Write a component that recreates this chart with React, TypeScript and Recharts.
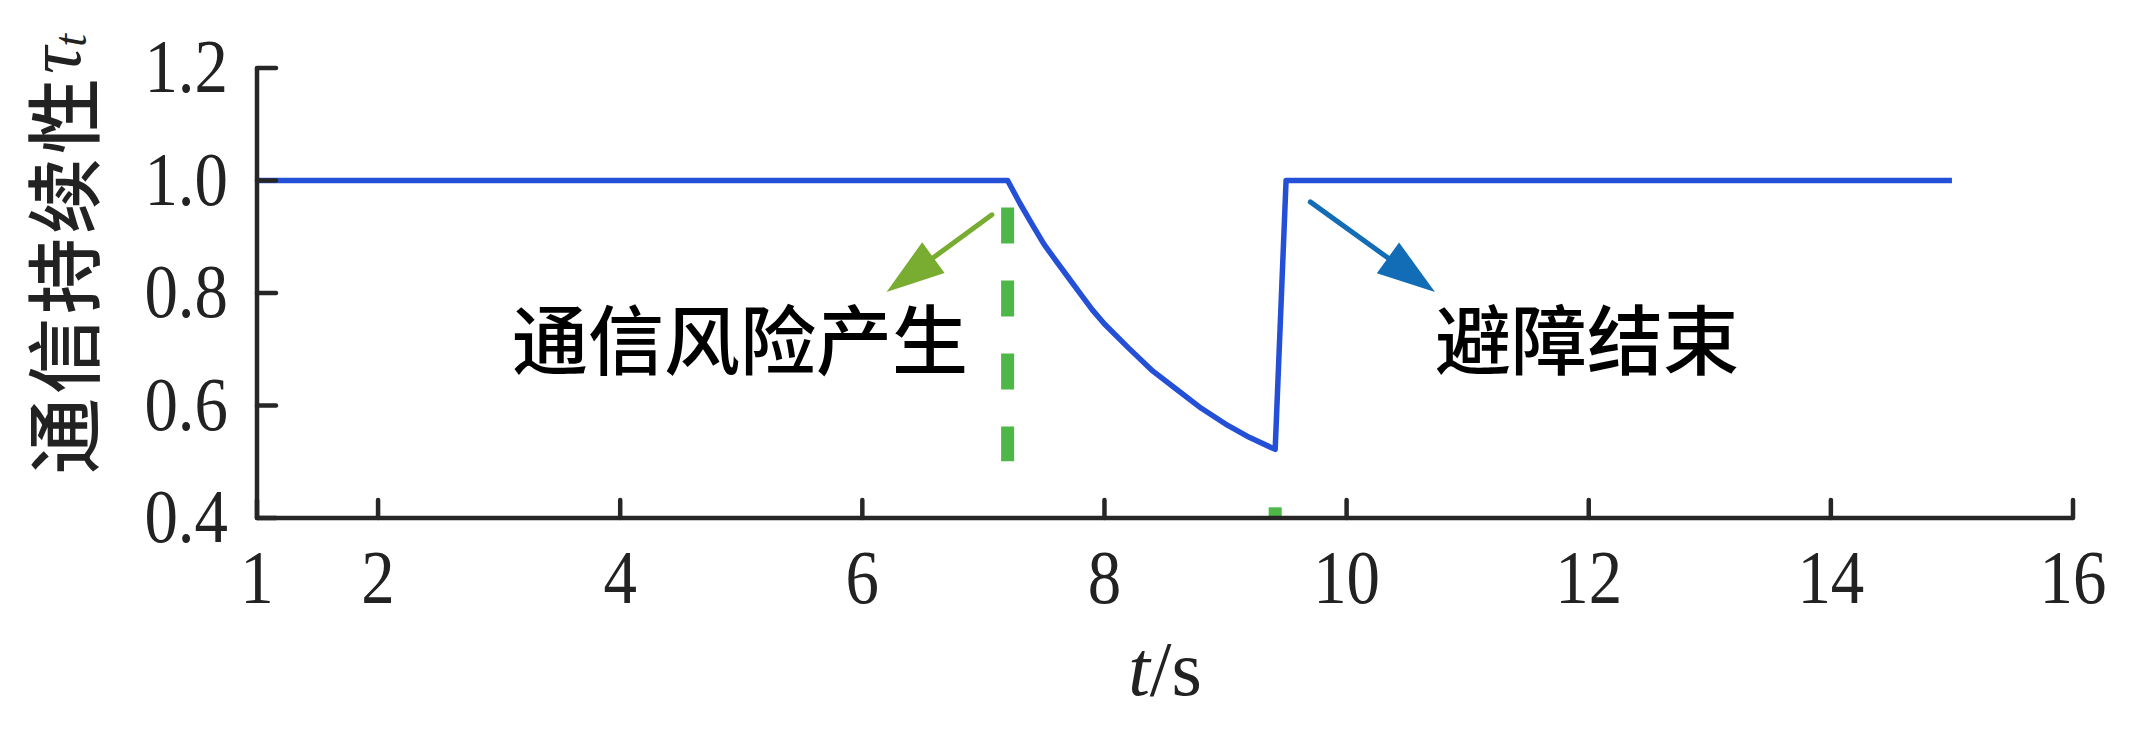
import { LineChart, Line, XAxis, YAxis, ReferenceLine, ReferenceDot } from 'recharts';

// 通信持续性 τ_t 随时间变化
const timePoints = [
  1, 7.2, 7.3, 7.4, 7.5, 7.6, 7.7, 7.8, 7.9, 8.0, 8.2, 8.4, 8.6, 8.8, 9.0, 9.2, 9.41, 9.5, 15,
];
const persistence = [
  1, 1, 0.96, 0.923, 0.887, 0.857, 0.828, 0.799, 0.77, 0.745, 0.702, 0.661, 0.628, 0.595, 0.567, 0.543, 0.522, 1, 1,
];

const xTicks = [1, 2, 4, 6, 8, 10, 12, 14, 16];
const yTicks = [0.4, 0.6, 0.8, 1.0, 1.2];

// 绿色虚线（风险产生时刻）
const riskTime = 7.2;
const riskDashTop = 0.952;
const riskDashBottom = 0.501;
const riskTailTime = 9.41;

// 箭头：起点 -> 终点
const riskArrow = [{ x: 7.07, y: 0.939 }, { x: 6.2, y: 0.802 }];
const endArrow = [{ x: 9.7, y: 0.962 }, { x: 10.73, y: 0.802 }];

const riskText = { x: 4.99, y: 0.724, text: '通信风险产生' };
const endText = { x: 11.985, y: 0.724, text: '避障结束' };

const data = timePoints.map((t, i) => ({ t, v: persistence[i] }));

const AXIS = '#262626';
const SERIF = '"Liberation Serif", "Times New Roman", serif';
const CJK = '"Noto Sans CJK SC", sans-serif';

function XTick(props: any) {
  const { x, y, payload } = props;
  return (
    <g>
      <line x1={x} y1={y} x2={x} y2={y - 18} stroke={AXIS} strokeWidth={4.5} strokeLinecap="round" />
      <text
        transform={`translate(${x},${y + 85}) scale(0.88,1)`}
        textAnchor="middle"
        fontFamily={SERIF}
        fontSize={76}
        fill="#222"
      >
        {payload.value}
      </text>
    </g>
  );
}

function YTick(props: any) {
  const { x, y, payload } = props;
  return (
    <g>
      <line x1={x} y1={y} x2={x + 19} y2={y} stroke={AXIS} strokeWidth={4.5} strokeLinecap="round" />
      <text
        transform={`translate(${x - 29},${y + 24}) scale(0.88,1)`}
        textAnchor="end"
        fontFamily={SERIF}
        fontSize={76}
        fill="#222"
      >
        {Number(payload.value).toFixed(1)}
      </text>
    </g>
  );
}

function arrowShape(color: string) {
  return (props: any) => {
    const { x1, y1, x2, y2 } = props;
    const dx = x2 - x1;
    const dy = y2 - y1;
    const len = Math.sqrt(dx * dx + dy * dy);
    const ux = dx / len;
    const uy = dy / len;
    const headLen = 58;
    const halfW = 19;
    const bx = x2 - ux * headLen;
    const by = y2 - uy * headLen;
    const pts = [
      `${x2},${y2}`,
      `${bx - uy * halfW},${by + ux * halfW}`,
      `${bx + uy * halfW},${by - ux * halfW}`,
    ].join(' ');
    return (
      <g>
        <line x1={x1} y1={y1} x2={bx + ux * 4} y2={by + uy * 4} stroke={color} strokeWidth={5} strokeLinecap="round" />
        <polygon points={pts} fill={color} />
      </g>
    );
  };
}

function textShape(text: string) {
  return (props: any) => (
    <text
      x={props.cx}
      y={props.cy}
      textAnchor="middle"
      dominantBaseline="central"
      fontFamily={CJK}
      fontSize={76}
      fontWeight={500}
      fill="#000"
    >
      {text}
    </text>
  );
}

export default function App() {
  return (
    <div style={{ position: 'absolute', left: 0, top: 0, width: 2141, height: 750, background: '#fff' }}>
      <LineChart width={2141} height={750} data={data} margin={{ top: 68, right: 68, bottom: 132, left: 0 }}>
        <XAxis
          type="number"
          dataKey="t"
          domain={[1, 16]}
          ticks={xTicks}
          interval={0}
          height={100}
          stroke={AXIS}
          strokeWidth={4.5}
          tickLine={false}
          tickSize={0}
          tickMargin={0}
          tick={<XTick />}
          label={{
            content: () => (
              <text x={1165} y={695} textAnchor="middle" fontFamily={SERIF} fontSize={78} fill="#222">
                <tspan fontStyle="italic">t</tspan>/s
              </text>
            ),
          }}
        />
        <YAxis
          type="number"
          domain={[0.4, 1.2]}
          ticks={yTicks}
          interval={0}
          width={257}
          stroke={AXIS}
          strokeWidth={4.5}
          tickLine={false}
          tickSize={0}
          tickMargin={0}
          tick={<YTick />}
          label={{
            content: () => (
              <text
                x={60}
                y={254}
                transform="rotate(-90, 60, 254)"
                textAnchor="middle"
                dominantBaseline="central"
                fontSize={76}
                fill="#222"
              >
                <tspan fontFamily={CJK} fontWeight={500} letterSpacing={4}>通信持续性</tspan>
                <tspan fontFamily={SERIF} fontStyle="italic" dy={-6}>τ</tspan>
                <tspan fontFamily={SERIF} fontStyle="italic" fontSize={46} dy={16}>t</tspan>
              </text>
            ),
          }}
        />
        <ReferenceLine
          segment={[{ x: riskTime, y: riskDashTop }, { x: riskTime, y: riskDashBottom }]}
          stroke="#4db848"
          strokeWidth={13}
          strokeDasharray="36 37"
        />
        <ReferenceLine
          segment={[{ x: riskTailTime, y: 0.4 }, { x: riskTailTime, y: 0.419 }]}
          stroke="#4db848"
          strokeWidth={13}
        />
        <ReferenceLine segment={riskArrow} shape={arrowShape('#79ad32')} />
        <ReferenceLine segment={endArrow} shape={arrowShape('#126db6')} />
        <ReferenceDot x={riskText.x} y={riskText.y} r={0} shape={textShape(riskText.text)} />
        <ReferenceDot x={endText.x} y={endText.y} r={0} shape={textShape(endText.text)} />
        <Line
          type="linear"
          dataKey="v"
          stroke="#2450d8"
          strokeWidth={5.5}
          dot={false}
          isAnimationActive={false}
          strokeLinejoin="round"
        />
      </LineChart>
    </div>
  );
}
